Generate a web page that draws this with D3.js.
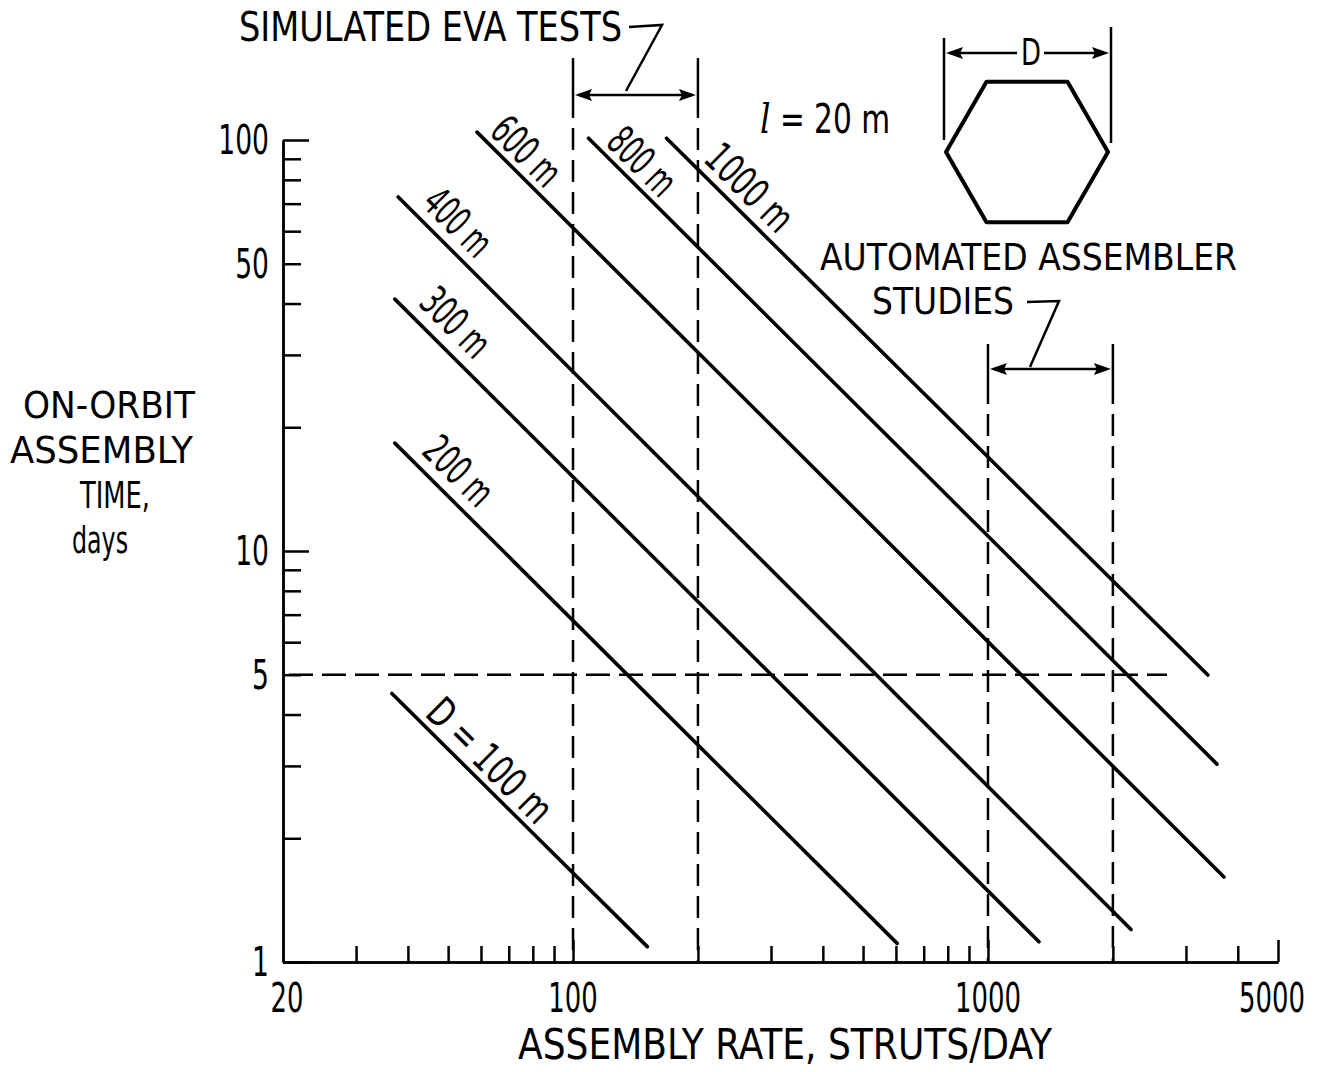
<!DOCTYPE html>
<html>
<head>
<meta charset="utf-8">
<script src="https://cdn.jsdelivr.net/npm/d3@7/dist/d3.min.js"></script>
<style>
	body { margin: 0; background: #fff; }
	svg { display: block; }
	text { font-family: 'DejaVu Sans Condensed', 'DejaVu Sans', sans-serif; fill: #000; }
</style>
</head>
<body>
<script>
(function(document, window){
'use strict';

// truss diameters and the end points of each time-vs-rate line (rate, days)
var lineLabels = ['D = 100 m', '200 m', '300 m', '400 m', '600 m', '800 m', '1000 m'];
var startRate = [36.6, 37.2, 37.2, 37.9, 58.7, 109, 168];
var startDays = [4.5, 18.3, 41, 72.7, 104.5, 101, 101];
var endRate = [151, 604, 1327, 2212, 3705, 3563, 3388];
var endDays = [1.09, 1.11, 1.12, 1.2, 1.61, 3.03, 4.99];

// reference bands
var evaRates = [100, 200];
var assemblerRates = [1000, 2000];
var targetDays = 5;
var targetEndRate = 2700;

// ticks
var xLabels = [20, 100, 1000, 5000];
var xMajor = [100, 1000, 5000];
var xMinor = [30, 40, 50, 60, 70, 80, 90, 200, 300, 400, 500, 600, 700, 800, 900, 2000, 3000, 4000];
var yLabels = [1, 5, 10, 50, 100];
var yMajor = [1, 10, 100];
var yMinor = [2, 3, 4, 5, 6, 7, 8, 9, 20, 30, 40, 50, 60, 70, 80, 90];

var yTitle = ['ON-ORBIT', 'ASSEMBLY', 'TIME,', 'days'];
var autoTitle = ['AUTOMATED ASSEMBLER', 'STUDIES'];

var width = 1324;
var height = 1072;

var svg = d3.select('body').append('svg')
			.attr('width', width)
			.attr('height', height);

var x = d3.scaleLog().domain([20, 5000]).range([283, 1278]);
var y = d3.scaleLog().domain([1, 100]).range([962, 140]);

var ink = '#000';
var squeeze = 0.72; // narrow numerals

// ---- axes ----
function styleAxis(g){
	g.select('.domain').attr('stroke', ink).attr('stroke-width', 2.5);
	g.selectAll('.tick line').attr('stroke', ink).attr('stroke-width', 2.5);
}

svg.append('g')
	.attr('transform', 'translate(0,' + y(1) + ')')
	.call(d3.axisBottom(x).tickValues(xMinor).tickSize(-16).tickSizeOuter(0).tickFormat(''))
	.call(styleAxis);

svg.append('g')
	.attr('transform', 'translate(0,' + y(1) + ')')
	.call(d3.axisBottom(x).tickValues(xMajor).tickSize(-22).tickSizeOuter(0).tickFormat(''))
	.call(styleAxis);

svg.append('g')
	.attr('transform', 'translate(' + x(20) + ',0)')
	.call(d3.axisLeft(y).tickValues(yMinor).tickSize(-18).tickSizeOuter(0).tickFormat(''))
	.call(styleAxis);

svg.append('g')
	.attr('transform', 'translate(' + x(20) + ',0)')
	.call(d3.axisLeft(y).tickValues(yMajor).tickSize(-26).tickSizeOuter(0).tickFormat(''))
	.call(styleAxis);

svg.selectAll('text.xlab')
	.data(xLabels)
	.enter().append('text')
	.attr('class', 'xlab')
	.attr('transform', function(d, i){
		var px = x(d);
		if(i === 0){ px += 4; }
		if(i === xLabels.length - 1){ px -= 6; }
		return 'translate(' + px + ',1012) scale(' + squeeze + ',1)';
	})
	.attr('text-anchor', 'middle')
	.attr('font-size', 40)
	.text(function(d){ return d; });

svg.selectAll('text.ylab')
	.data(yLabels)
	.enter().append('text')
	.attr('class', 'ylab')
	.attr('transform', function(d){ return 'translate(269,' + (y(d) + 14) + ') scale(' + squeeze + ',1)'; })
	.attr('text-anchor', 'end')
	.attr('font-size', 41)
	.text(function(d){ return d; });

function label(txt, px, py, size, len, anchor){
	return svg.append('text')
		.attr('x', px)
		.attr('y', py)
		.attr('font-size', size)
		.attr('text-anchor', anchor || 'start')
		.attr('textLength', len)
		.attr('lengthAdjust', 'spacingAndGlyphs')
		.text(txt);
}

// stacked text block: one text element, one tspan per line
function block(rows, xs, ys, lens, size){
	var t = svg.append('text').attr('font-size', size);
	rows.forEach(function(r, i){
		t.append('tspan')
			.attr('x', xs[i])
			.attr('y', ys[i])
			.attr('textLength', lens[i])
			.attr('lengthAdjust', 'spacingAndGlyphs')
			.text(r);
	});
	return t;
}

label('ASSEMBLY RATE, STRUTS/DAY', 518, 1059, 42, 534);
block(yTitle, [23, 10, 80, 72], [418, 463, 508, 553], [172, 183, 70, 56], 38);

// ---- reference dashed lines ----
var dashV = '22,10';

function refVertical(rate, topPx){
	// solid extension line above, dashed down to the axis
	svg.append('line')
		.attr('x1', x(rate)).attr('x2', x(rate))
		.attr('y1', topPx).attr('y2', topPx + 60)
		.attr('stroke', ink).attr('stroke-width', 2.5);
	svg.append('line')
		.attr('x1', x(rate)).attr('x2', x(rate))
		.attr('y1', topPx + 70).attr('y2', y(1))
		.attr('stroke', ink).attr('stroke-width', 2.5)
		.attr('stroke-dasharray', dashV);
}

evaRates.forEach(function(r){ refVertical(r, 58); });
assemblerRates.forEach(function(r){ refVertical(r, 344); });

svg.append('line')
	.attr('x1', x(20) + 6).attr('x2', x(targetEndRate))
	.attr('y1', y(targetDays)).attr('y2', y(targetDays))
	.attr('stroke', ink).attr('stroke-width', 2.5)
	.attr('stroke-dasharray', '24,9');

// dimension arrows
function head(tip, py, dir){
	var len = 17, hw = 6;
	svg.append('path')
		.attr('d', 'M' + tip + ',' + py + 'L' + (tip + dir * len) + ',' + (py - hw) + 'L' + (tip + dir * (len - 3)) + ',' + py + 'L' + (tip + dir * len) + ',' + (py + hw) + 'Z')
		.attr('fill', ink);
}

function arrow(xa, xb, py){
	svg.append('line')
		.attr('x1', xa + 4).attr('x2', xb - 4)
		.attr('y1', py).attr('y2', py)
		.attr('stroke', ink).attr('stroke-width', 2.5);
	head(xa, py, 1);
	head(xb, py, -1);
}

arrow(x(evaRates[0]) + 2, x(evaRates[1]) - 2, 95);
arrow(x(assemblerRates[0]) + 2, x(assemblerRates[1]) - 2, 369);

// leaders
function leader(pts){
	svg.append('polyline')
		.attr('points', pts.map(function(p){ return p.join(','); }).join(' '))
		.attr('fill', 'none')
		.attr('stroke', ink).attr('stroke-width', 2.5);
}

label('SIMULATED EVA TESTS', 239, 41, 40, 383);
leader([[629, 27], [662, 25], [626, 91]]);

block(autoTitle, [820, 872], [270, 314], [417, 142], 38);
leader([[1027, 302], [1059, 301], [1030, 367]]);

// ---- strut-count lines ----
var lines = lineLabels.map(function(l, i){
	return {label: l, a: [startRate[i], startDays[i]], b: [endRate[i], endDays[i]]};
});

svg.selectAll('line.dia')
	.data(lines)
	.enter().append('line')
	.attr('class', 'dia')
	.attr('x1', function(d){ return x(d.a[0]); })
	.attr('y1', function(d){ return y(d.a[1]); })
	.attr('x2', function(d){ return x(d.b[0]); })
	.attr('y2', function(d){ return y(d.b[1]); })
	.attr('stroke', ink)
	.attr('stroke-width', 3.6)
	.attr('stroke-linecap', 'round');

// labels riding above the start of each line
var labelAt = [58, 48, 47, 48, 71, 135, 243];
var labelOff = [22, 26, 27, 25, 22, 22, 24];
var labelLen = [158, 80, 80, 78, 80, 78, 106];

svg.selectAll('text.dia')
	.data(lines)
	.enter().append('text')
	.attr('class', 'dia')
	.attr('font-size', 41)
	.attr('text-anchor', 'middle')
	.attr('textLength', function(d, i){ return labelLen[i]; })
	.attr('lengthAdjust', 'spacingAndGlyphs')
	.attr('transform', function(d, i){
		var x1 = x(d.a[0]), y1 = y(d.a[1]), x2 = x(d.b[0]), y2 = y(d.b[1]);
		var t = (Math.log(labelAt[i]) - Math.log(d.a[0])) / (Math.log(d.b[0]) - Math.log(d.a[0]));
		var fx = x1 + t * (x2 - x1), fy = y1 + t * (y2 - y1);
		var ang = Math.atan2(y2 - y1, x2 - x1);
		var cx = fx + labelOff[i] * Math.sin(ang), cy = fy - labelOff[i] * Math.cos(ang);
		return 'translate(' + cx + ',' + cy + ') rotate(' + (ang * 180 / Math.PI) + ')';
	})
	.attr('dy', '0.36em')
	.text(function(d){ return d.label; });

// ---- hexagon sketch ----
var hc = [1027, 152], hr = 81;
var hex = d3.range(6).map(function(k){
	var a = k * Math.PI / 3;
	return [hc[0] + hr * Math.cos(a), hc[1] + hr * Math.sin(a)];
});
svg.append('path')
	.attr('d', 'M' + hex.map(function(p){ return p.join(','); }).join('L') + 'Z')
	.attr('fill', 'none')
	.attr('stroke', ink)
	.attr('stroke-width', 4)
	.attr('stroke-linejoin', 'round');

svg.append('line').attr('x1', 944).attr('x2', 944).attr('y1', 38).attr('y2', 140)
	.attr('stroke', ink).attr('stroke-width', 2.5);
svg.append('line').attr('x1', 1111).attr('x2', 1111).attr('y1', 27).attr('y2', 143)
	.attr('stroke', ink).attr('stroke-width', 2.5);

svg.append('line').attr('x1', 950).attr('x2', 1017).attr('y1', 53).attr('y2', 53)
	.attr('stroke', ink).attr('stroke-width', 2.5);
svg.append('line').attr('x1', 1044).attr('x2', 1104).attr('y1', 53).attr('y2', 53)
	.attr('stroke', ink).attr('stroke-width', 2.5);
head(946, 53, 1);
head(1109, 53, -1);

label('D', 1031, 65, 38, 20, 'middle');

var ell = svg.append('text')
	.attr('x', 760)
	.attr('y', 133)
	.attr('font-size', 41)
	.attr('textLength', 130)
	.attr('lengthAdjust', 'spacingAndGlyphs');
ell.append('tspan').attr('font-style', 'italic').attr('font-family', 'DejaVu Serif').text('l');
ell.append('tspan').text(' = 20 m');

})(document, window);
</script>
</body>
</html>
